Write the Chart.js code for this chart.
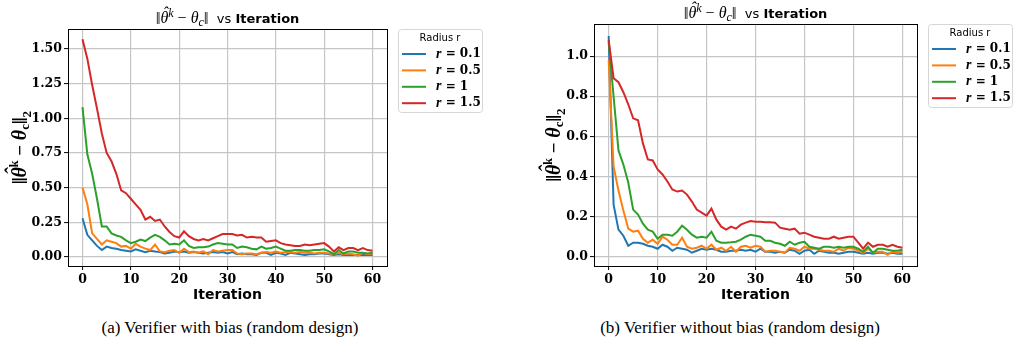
<!DOCTYPE html>
<html>
<head>
<meta charset="utf-8">
<script src="https://cdn.jsdelivr.net/npm/chart.js@4.4.1/dist/chart.umd.min.js"></script>
<style>
    body { margin: 0; background: #fff; }
    #wrap { position: relative; width: 1013px; height: 356px; overflow: hidden; }
    canvas { position: absolute; top: 0; }
    .cap {
        position: absolute;
        top: 318px;
        width: 460px;
        text-align: center;
        font-family: "Liberation Serif", serif;
        font-size: 17px;
        color: #000;
        white-space: nowrap;
    }
</style>
</head>
<body>
<div id="wrap">
    <canvas id="chartA" width="500" height="310" style="left:0"></canvas>
    <canvas id="chartB" width="503" height="310" style="left:510px"></canvas>
    <div class="cap" style="left:0">(a) Verifier with bias (random design)</div>
    <div class="cap" style="left:510px">(b) Verifier without bias (random design)</div>
</div>
<script>
// =========================
// DATA
// =========================
const iterations = [
    0, 1, 2, 3, 4, 5, 6, 7, 8, 9,
    10, 11, 12, 13, 14, 15, 16, 17, 18, 19,
    20, 21, 22, 23, 24, 25, 26, 27, 28, 29,
    30, 31, 32, 33, 34, 35, 36, 37, 38, 39,
    40, 41, 42, 43, 44, 45, 46, 47, 48, 49,
    50, 51, 52, 53, 54, 55, 56, 57, 58, 59,
    60
];

const radiusLabels = ["r = 0.1", "r = 0.5", "r = 1", "r = 1.5"];
const colors = ["#1f77b4", "#ff7f0e", "#2ca02c", "#d62728"];

const xTicks = [0, 10, 20, 30, 40, 50, 60];
const yTicksA = [0, 0.25, 0.5, 0.75, 1.0, 1.25, 1.5];
const yTicksB = [0, 0.2, 0.4, 0.6, 0.8, 1.0];

// (a) with bias
const blueA = [
    0.28, 0.16, 0.12, 0.08, 0.05, 0.075, 0.065, 0.06, 0.05, 0.045,
    0.04, 0.055, 0.045, 0.035, 0.045, 0.04, 0.035, 0.025, 0.03, 0.04,
    0.035, 0.04, 0.03, 0.035, 0.03, 0.025, 0.03, 0.035, 0.03, 0.035,
    0.025, 0.035, 0.02, 0.025, 0.02, 0.02, 0.015, 0.03, 0.03, 0.015,
    0.03, 0.025, 0.015, 0.03, 0.025, 0.02, 0.015, 0.02, 0.02, 0.025,
    0.025, 0.02, 0.015, 0.02, 0.015, 0.015, 0.015, 0.015, 0.015, 0.015,
    0.015
];
const orangeA = [
    0.50, 0.38, 0.17, 0.13, 0.09, 0.12, 0.11, 0.10, 0.075, 0.08,
    0.06, 0.095, 0.075, 0.06, 0.05, 0.09, 0.04, 0.035, 0.045, 0.05,
    0.03, 0.06, 0.035, 0.04, 0.03, 0.04, 0.02, 0.05, 0.04, 0.045,
    0.05, 0.05, 0.025, 0.02, 0.025, 0.025, 0.02, 0.03, 0.035, 0.03,
    0.04, 0.03, 0.035, 0.035, 0.03, 0.035, 0.03, 0.03, 0.025, 0.03,
    0.03, 0.025, 0.02, 0.03, 0.02, 0.025, 0.02, 0.01, 0.03, 0.02,
    0.025
];
const greenA = [
    1.08, 0.74, 0.60, 0.42, 0.22, 0.22, 0.17, 0.155, 0.145, 0.12,
    0.10, 0.11, 0.125, 0.115, 0.14, 0.16, 0.145, 0.12, 0.09, 0.095,
    0.09, 0.12, 0.08, 0.065, 0.07, 0.07, 0.075, 0.09, 0.10, 0.095,
    0.09, 0.09, 0.065, 0.075, 0.07, 0.06, 0.055, 0.075, 0.06, 0.065,
    0.075, 0.06, 0.045, 0.045, 0.05, 0.05, 0.045, 0.045, 0.05, 0.05,
    0.055, 0.04, 0.02, 0.05, 0.025, 0.04, 0.04, 0.03, 0.03, 0.025,
    0.03
];
const redA = [
    1.57, 1.43, 1.24, 1.07, 0.89, 0.75, 0.69, 0.60, 0.48, 0.46,
    0.42, 0.38, 0.34, 0.27, 0.29, 0.26, 0.27, 0.22, 0.18, 0.15,
    0.14, 0.185, 0.15, 0.13, 0.12, 0.13, 0.12, 0.135, 0.15, 0.165,
    0.165, 0.165, 0.155, 0.16, 0.14, 0.145, 0.14, 0.14, 0.11, 0.115,
    0.12, 0.10, 0.09, 0.085, 0.08, 0.08, 0.09, 0.085, 0.09, 0.095,
    0.10, 0.075, 0.04, 0.07, 0.05, 0.065, 0.065, 0.05, 0.065, 0.05,
    0.045
];

// (b) without bias
const blueB = [
    1.10, 0.26, 0.135, 0.105, 0.055, 0.07, 0.07, 0.065, 0.055, 0.05,
    0.04, 0.06, 0.05, 0.03, 0.045, 0.04, 0.035, 0.02, 0.03, 0.04,
    0.035, 0.04, 0.035, 0.025, 0.025, 0.03, 0.03, 0.035, 0.03, 0.035,
    0.025, 0.04, 0.025, 0.025, 0.02, 0.025, 0.02, 0.035, 0.03, 0.015,
    0.03, 0.035, 0.015, 0.03, 0.025, 0.02, 0.02, 0.015, 0.02, 0.025,
    0.025, 0.02, 0.015, 0.02, 0.015, 0.02, 0.02, 0.015, 0.02, 0.015,
    0.015
];
const orangeB = [
    0.98, 0.45, 0.33, 0.23, 0.14, 0.125, 0.13, 0.09, 0.07, 0.085,
    0.065, 0.10, 0.085, 0.06, 0.06, 0.095, 0.05, 0.04, 0.045, 0.055,
    0.04, 0.06, 0.035, 0.045, 0.03, 0.05, 0.025, 0.05, 0.055, 0.045,
    0.055, 0.05, 0.025, 0.03, 0.03, 0.025, 0.02, 0.045, 0.04, 0.03,
    0.05, 0.04, 0.04, 0.035, 0.03, 0.03, 0.025, 0.04, 0.03, 0.045,
    0.04, 0.03, 0.02, 0.04, 0.02, 0.025, 0.025, 0.01, 0.025, 0.02,
    0.025
];
const greenB = [
    1.07, 0.80, 0.53, 0.46, 0.37, 0.235, 0.21, 0.165, 0.135, 0.125,
    0.09, 0.11, 0.11, 0.105, 0.125, 0.155, 0.135, 0.11, 0.095, 0.10,
    0.095, 0.125, 0.08, 0.07, 0.07, 0.072, 0.075, 0.085, 0.10, 0.11,
    0.105, 0.10, 0.08, 0.08, 0.07, 0.065, 0.055, 0.075, 0.06, 0.07,
    0.075, 0.05, 0.045, 0.04, 0.05, 0.05, 0.045, 0.05, 0.045, 0.05,
    0.05, 0.04, 0.025, 0.05, 0.02, 0.04, 0.04, 0.035, 0.03, 0.03,
    0.035
];
const redB = [
    1.08, 0.89, 0.87, 0.82, 0.76, 0.69, 0.68, 0.565, 0.485, 0.48,
    0.435, 0.41, 0.375, 0.335, 0.325, 0.33, 0.31, 0.275, 0.235, 0.22,
    0.205, 0.24, 0.185, 0.15, 0.135, 0.15, 0.14, 0.16, 0.17, 0.178,
    0.175, 0.175, 0.172, 0.172, 0.17, 0.145, 0.14, 0.135, 0.14, 0.115,
    0.12, 0.11, 0.10, 0.095, 0.09, 0.09, 0.10, 0.09, 0.095, 0.10,
    0.10, 0.07, 0.04, 0.07, 0.05, 0.06, 0.06, 0.05, 0.06, 0.05,
    0.045
];

// =========================
// HELPERS
// =========================
const SERIF = "'DejaVu Serif', serif";
const TIMES = "'Liberation Serif', serif";
const SANS = "'DejaVu Sans', sans-serif";

// draws a row of text pieces (for sub/superscripts), centred on cx, baseline cy
function drawRich(ctx, parts, cx, cy, rotate) {
    ctx.save();
    ctx.translate(cx, cy);
    if (rotate) ctx.rotate(-Math.PI / 2);
    ctx.textAlign = "left";
    ctx.textBaseline = "alphabetic";
    ctx.fillStyle = "#000";
    let total = 0;
    parts.forEach(p => { ctx.font = p.font; total += ctx.measureText(p.text).width; });
    let x = -total / 2;
    parts.forEach(p => {
        ctx.font = p.font;
        const w = ctx.measureText(p.text).width;
        ctx.fillText(p.text, x, p.dy || 0);
        if (p.hat) {
            // circumflex over the letter
            ctx.textAlign = "center";
            ctx.fillText("\u02C6", x + w / 2 + p.hat[0], p.hat[1]);
            ctx.textAlign = "left";
        }
        x += w;
    });
    ctx.restore();
}

const titleParts = [
    { text: "\u2016", font: "17px " + TIMES, dy: 1 },
    { text: "\u03B8", font: "italic 16px " + TIMES, hat: [1, -5] },
    { text: "k", font: "italic 12px " + TIMES, dy: -6 },
    { text: " \u2212 ", font: "16px " + TIMES },
    { text: "\u03B8", font: "italic 16px " + TIMES },
    { text: "c", font: "italic 12px " + TIMES, dy: 3 },
    { text: "\u2016", font: "17px " + TIMES, dy: 1 },
    { text: "  vs ", font: "13px " + SANS },
    { text: "Iteration", font: "bold 13px " + SANS }
];

const yLabelParts = [
    { text: "\u2016", font: "bold 20px " + TIMES, dy: 1 },
    { text: "\u03B8", font: "bold italic 20px " + TIMES, hat: [1, -6] },
    { text: "k", font: "bold 12px " + TIMES, dy: -8 },
    { text: " \u2212 ", font: "bold 19px " + TIMES },
    { text: "\u03B8", font: "bold italic 20px " + TIMES },
    { text: "c", font: "bold 13px " + TIMES, dy: 3 },
    { text: "\u2016", font: "bold 20px " + TIMES, dy: 1 },
    { text: "2", font: "bold 13px " + TIMES, dy: 5 }
];

// =========================
// PLUGIN (frame, title, y label, legend)
// =========================
const decorPlugin = {
    id: "decor",
    afterDraw(chart, args, opts) {
        const ctx = chart.ctx;
        const a = chart.chartArea;

        // axes frame
        ctx.save();
        ctx.strokeStyle = "#000";
        ctx.lineWidth = 1;
        ctx.strokeRect(Math.round(a.left) + 0.5, Math.round(a.top) + 0.5,
            Math.round(a.right - a.left), Math.round(a.bottom - a.top));
        ctx.restore();

        drawRich(ctx, titleParts, (a.left + a.right) / 2, a.top - 6, false);
        drawRich(ctx, yLabelParts, a.left - opts.yLabelGap, (a.top + a.bottom) / 2, true);

        // legend box
        const x0 = a.right + 11;
        const y0 = a.top;
        const w = 84, h = 83;
        ctx.save();
        ctx.fillStyle = "rgba(255,255,255,0.8)";
        ctx.strokeStyle = "#d6d6d6";
        ctx.lineWidth = 1;
        ctx.beginPath();
        ctx.roundRect(x0 + 0.5, y0 + 0.5, w, h, 3);
        ctx.fill();
        ctx.stroke();

        ctx.fillStyle = "#000";
        ctx.font = "10px " + SANS;
        ctx.textAlign = "center";
        ctx.textBaseline = "middle";
        ctx.fillText("Radius r", x0 + w / 2, y0 + 9);

        chart.data.datasets.forEach((ds, i) => {
            const y = y0 + 25 + i * 16.4;
            ctx.strokeStyle = ds.borderColor;
            ctx.lineWidth = 2;
            ctx.beginPath();
            ctx.moveTo(x0 + 4, y);
            ctx.lineTo(x0 + 28, y);
            ctx.stroke();

            ctx.fillStyle = "#000";
            ctx.textAlign = "left";
            ctx.textBaseline = "middle";
            ctx.font = "bold italic 14px " + TIMES;
            ctx.fillText(ds.label.charAt(0), x0 + 38, y);
            const rw = ctx.measureText(ds.label.charAt(0)).width;
            ctx.font = "bold 12px " + SERIF;
            ctx.fillText(ds.label.slice(1), x0 + 38 + rw, y);
        });
        ctx.restore();
    }
};

function toPoints(values) {
    return iterations.map((it, i) => ({ x: it, y: values[i] }));
}

// =========================
// CHART BUILDER
// =========================
function makeChart(canvasId, series, cfg) {
    return new Chart(document.getElementById(canvasId), {
        type: "line",
        data: {
            datasets: series.map((vals, i) => ({
                label: radiusLabels[i],
                data: toPoints(vals),
                borderColor: colors[i],
                backgroundColor: colors[i],
                borderWidth: 2,
                pointRadius: 0,
                tension: 0,
                order: series.length - i
            }))
        },
        options: {
            responsive: false,
            animation: false,
            layout: {
                padding: { left: 0, top: cfg.top, right: cfg.right, bottom: 0 }
            },
            scales: {
                x: {
                    type: "linear",
                    min: -3,
                    max: 63,
                    afterBuildTicks: s => { s.ticks = xTicks.map(v => ({ value: v })); },
                    afterFit: s => { s.height = 310 - cfg.bottom; },
                    grid: { color: "#c6c6c6", lineWidth: 1.2, tickColor: "#000", tickLength: 4, tickWidth: 1 },
                    border: { display: false },
                    ticks: {
                        color: "#000",
                        padding: 2,
                        maxRotation: 0,
                        font: { family: SERIF, weight: "bold", size: 12.5 },
                        callback: v => String(v)
                    },
                    title: {
                        display: true,
                        text: "Iteration",
                        color: "#000",
                        font: { family: SANS, weight: "bold", size: 14 },
                        padding: { top: 0, bottom: 6 }
                    }
                },
                y: {
                    type: "linear",
                    min: cfg.yMin,
                    max: cfg.yMax,
                    afterBuildTicks: s => { s.ticks = cfg.yTicks.map(v => ({ value: v })); },
                    afterFit: s => { s.width = cfg.left; },
                    grid: { color: "#c6c6c6", lineWidth: 1.2, tickColor: "#000", tickLength: 4, tickWidth: 1 },
                    border: { display: false },
                    ticks: {
                        color: "#000",
                        padding: 2,
                        font: { family: SERIF, weight: "bold", size: 12.5 },
                        callback: v => v.toFixed(cfg.decimals)
                    }
                }
            },
            plugins: {
                legend: { display: false },
                tooltip: { enabled: false },
                decor: { yLabelGap: cfg.yLabelGap }
            }
        },
        plugins: [decorPlugin]
    });
}

// =========================
// INIT
// =========================
window.onload = () => {
    makeChart("chartA", [blueA, orangeA, greenA, redA], {
        left: 68, top: 29, right: 113, bottom: 266,
        yMin: -0.065, yMax: 1.644, yTicks: yTicksA, decimals: 2, yLabelGap: 42
    });
    makeChart("chartB", [blueB, orangeB, greenB, redB], {
        left: 84, top: 24, right: 96, bottom: 266,
        yMin: -0.046, yMax: 1.16, yTicks: yTicksB, decimals: 1, yLabelGap: 34
    });
};
</script>
</body>
</html>
